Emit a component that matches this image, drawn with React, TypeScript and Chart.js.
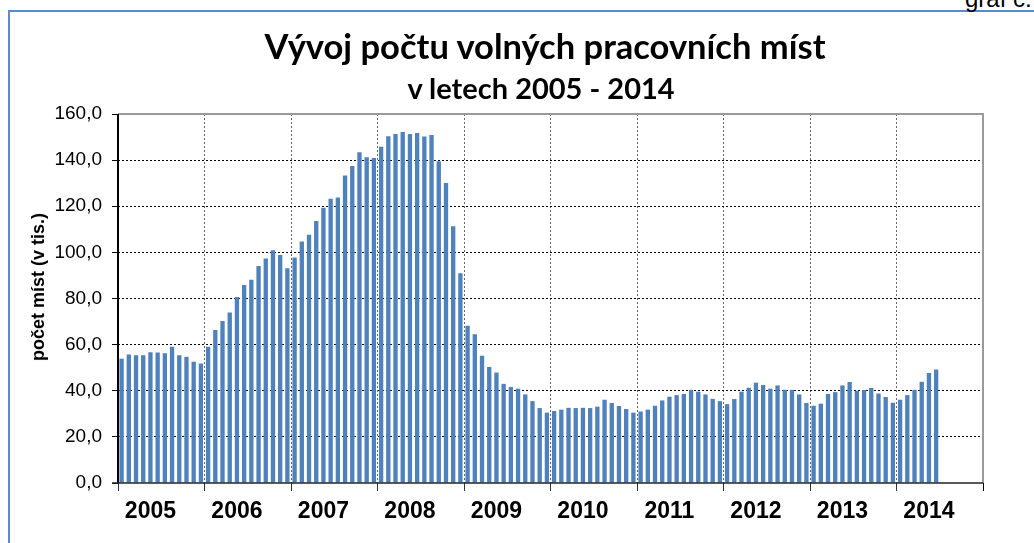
import React, { useEffect, useRef } from "react";
import { Chart, registerables } from "chart.js";

Chart.register(...registerables);

const years = ["2005", "2006", "2007", "2008", "2009", "2010", "2011", "2012", "2013", "2014"];

const v2005 = [53.9, 55.7, 55.4, 55.4, 56.7, 56.6, 56.3, 59.1, 55.4, 54.7, 52.6, 51.8];
const v2006 = [59.1, 66.3, 70.2, 73.9, 80.7, 85.8, 88.1, 94.1, 97.3, 100.9, 98.9, 93.1];
const v2007 = [97.8, 104.7, 107.6, 113.6, 119.3, 123.2, 123.8, 133.3, 137.5, 143.4, 141.2, 140.9];
const v2008 = [145.8, 150.3, 151.3, 152.2, 151.3, 151.8, 150.2, 150.9, 139.5, 130.1, 111.3, 91.0];
const v2009 = [68.2, 64.5, 55.2, 50.3, 47.9, 43.0, 41.6, 40.9, 38.4, 35.5, 32.5, 30.5];
const v2010 = [31.2, 31.8, 32.6, 32.5, 32.6, 32.5, 33.1, 36.1, 34.7, 33.4, 32.1, 30.5];
const v2011 = [31.0, 31.8, 33.5, 35.8, 37.4, 38.1, 38.6, 40.4, 39.6, 38.4, 36.5, 35.5];
const v2012 = [34.2, 36.4, 39.6, 41.3, 43.5, 42.5, 40.9, 42.3, 40.4, 40.4, 38.4, 34.7];
const v2013 = [33.5, 34.4, 38.6, 39.4, 42.3, 43.8, 40.0, 40.3, 41.2, 38.8, 37.3, 34.8];
const v2014 = [36.1, 38.1, 40.4, 43.9, 47.7, 49.2];

const values = [...v2005, ...v2006, ...v2007, ...v2008, ...v2009, ...v2010, ...v2011, ...v2012, ...v2013, ...v2014];
const months = years.flatMap((y) => Array.from({ length: 12 }, (_, m) => `${y}-${m + 1}`));

const yTicks = [0, 20, 40, 60, 80, 100, 120, 140, 160];

const ARIAL = "'Liberation Sans', Arial, sans-serif";

const framePlugin = {
  id: "frameLines",
  afterDraw(chart: any) {
    const { ctx, chartArea } = chart;
    const { left, right, top, bottom } = chartArea;
    ctx.save();
    ctx.setLineDash([]);
    ctx.strokeStyle = "#9a9a9a";
    ctx.lineWidth = 2;
    ctx.beginPath();
    ctx.moveTo(left, top);
    ctx.lineTo(right, top);
    ctx.lineTo(right, bottom);
    ctx.stroke();
    ctx.strokeStyle = "#000";
    ctx.lineWidth = 2;
    ctx.beginPath();
    ctx.moveTo(left, top);
    ctx.lineTo(left, bottom);
    ctx.stroke();
    ctx.lineWidth = 1.5;
    ctx.strokeStyle = "#222";
    ctx.beginPath();
    ctx.moveTo(left - 6, bottom);
    ctx.lineTo(right, bottom);
    ctx.stroke();
    ctx.lineWidth = 1;
    ctx.strokeStyle = "#000";
    ctx.beginPath();
    ctx.moveTo(right + 0.5, bottom);
    ctx.lineTo(right + 0.5, bottom + 8);
    ctx.stroke();
    ctx.restore();
  },
};

export default function App() {
  const ref = useRef<HTMLCanvasElement | null>(null);

  useEffect(() => {
    if (!ref.current) return;
    const chart = new Chart(ref.current, {
      type: "bar",
      data: {
        labels: months,
        datasets: [
          {
            data: values,
            backgroundColor: "#4F81BD",
            borderWidth: 0,
            categoryPercentage: 1,
            barPercentage: 0.6,
          },
        ],
      },
      options: {
        responsive: false,
        animation: false,
        layout: { padding: { left: 0, right: 51, top: 114, bottom: 0 } },
        plugins: {
          legend: { display: false },
          tooltip: { enabled: false },
          title: { display: false },
        },
        scales: {
          x: {
            type: "category",
            offset: true,
            afterFit: (s: any) => {
              s.height = 60;
            },
            grid: {
              offset: true,
              drawOnChartArea: true,
              color: (c: any) => (c.index !== undefined && c.index % 12 === 0 ? "#666" : "transparent"),
              tickColor: (c: any) => (c.index !== undefined && c.index % 12 === 0 ? "#333" : "transparent"),
              tickLength: 8,
              lineWidth: 1,
            },
            border: { display: false, dash: [2, 2] },
            ticks: {
              autoSkip: false,
              maxRotation: 0,
              minRotation: 0,
              padding: 7,
              color: "#000",
              font: { family: ARIAL, size: 23, weight: "bold" },
              callback: (_v: any, i: number) => (i % 12 === 4 ? years[Math.floor(i / 12)] : ""),
            },
          },
          y: {
            min: 0,
            max: 160,
            afterFit: (s: any) => {
              s.width = 118;
            },
            afterBuildTicks: (s: any) => {
              s.ticks = yTicks.map((v) => ({ value: v }));
            },
            grid: {
              color: (c: any) => (c.tick && (c.tick.value === 0 || c.tick.value === 160) ? "transparent" : "#000"),
              tickColor: "#000",
              tickLength: 6,
              lineWidth: 1,
            },
            border: { display: false, dash: [2, 2] },
            ticks: {
              padding: 10,
              color: "#000",
              font: { family: ARIAL, size: 19 },
              callback: (v: any) => Number(v).toFixed(1).replace(".", ","),
            },
          },
        },
      },
      plugins: [framePlugin],
    });
    return () => chart.destroy();
  }, []);

  return (
    <div style={{ position: "absolute", left: 0, top: 0, width: 1034, height: 543, overflow: "hidden", background: "#fff" }}>
      <div
        style={{
          position: "absolute",
          left: 8,
          top: 10,
          width: 1200,
          height: 700,
          border: "2px solid #5B8BCB",
          boxSizing: "border-box",
        }}
      />
      <div
        style={{
          position: "absolute",
          left: 965,
          top: -13,
          fontFamily: ARIAL,
          fontSize: 24,
          lineHeight: "24px",
          whiteSpace: "nowrap",
          color: "#000",
        }}
      >
        graf č.
      </div>
      <canvas ref={ref} width={1034} height={543} style={{ position: "absolute", left: 0, top: 0, width: 1034, height: 543 }} />
      <div
        style={{
          position: "absolute",
          left: 545,
          top: 29,
          transform: "translateX(-50%)",
          fontFamily: "Lato, 'Open Sans', sans-serif",
          fontWeight: 700,
          fontSize: 34.5,
          lineHeight: "34.5px",
          whiteSpace: "nowrap",
          color: "#000",
        }}
      >
        Vývoj počtu volných pracovních míst
      </div>
      <div
        style={{
          position: "absolute",
          left: 541,
          top: 73,
          transform: "translateX(-50%)",
          fontFamily: "Lato, 'Open Sans', sans-serif",
          fontWeight: 700,
          fontSize: 29,
          lineHeight: "29px",
          whiteSpace: "nowrap",
          color: "#000",
        }}
      >
        v letech 2005 - 2014
      </div>
      <div
        style={{
          position: "absolute",
          left: 38,
          top: 287,
          transform: "translate(-50%, -50%) rotate(-90deg)",
          fontFamily: ARIAL,
          fontWeight: 700,
          fontSize: 18,
          lineHeight: "18px",
          whiteSpace: "nowrap",
          color: "#000",
        }}
      >
        počet míst (v tis.)
      </div>
    </div>
  );
}
